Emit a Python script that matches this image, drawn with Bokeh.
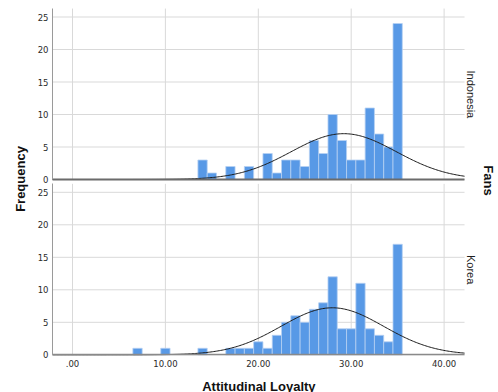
import numpy as np
from bokeh.plotting import figure
from bokeh.models import Range1d, FixedTicker, Label, LinearAxis
from bokeh.embed import file_html
from bokeh.resources import INLINE

# ---- data ----
indo_values = [14, 15, 17, 19, 21, 22, 23, 24, 25, 26, 27, 28, 29, 30, 31, 32, 33, 34, 35]
indo_counts = [3, 1, 2, 2, 4, 1, 3, 3, 2, 6, 4, 10, 6, 3, 3, 11, 7, 5, 24]
korea_values = [7, 10, 14, 17, 18, 19, 20, 21, 22, 23, 24, 25, 26, 27, 28, 29, 30, 31, 32, 33, 34, 35]
korea_counts = [1, 1, 1, 1, 1, 1, 2, 1, 3, 5, 6, 5, 7, 8, 12, 4, 4, 11, 4, 3, 2, 17]
x_ticks = [0, 10, 20, 30, 40]
x_tick_labels = [".00", "10.00", "20.00", "30.00", "40.00"]
y_ticks = [0, 5, 10, 15, 20, 25]
panel_names = ["Indonesia", "Korea"]
x_title = "Attitudinal Loyalty"
y_title = "Frequency"
facet_title = "Fans"
bin_width = 1.0

# ---- layout (pixels of the 498x392 canvas) ----
W, H = 498, 392
PX_X = 9.29          # pixels per unit on x
PX_Y = 6.5           # pixels per count
X0_PX = 72           # pixel of x = 0
TOP_ZERO_PX = 179    # pixel row of count 0, top panel
BOT_ZERO_PX = 354.3  # pixel row of count 0, bottom panel
PANEL_X = (-2.15, 42.2)
PANEL_Y = (0, 26.3)

BAR = "#5899e6"
BAR_LINE = "#b6d0f2"
GRID = "#d9d9d9"
TICK_FONT = "DejaVu Sans"
TITLE_FONT = "Liberation Sans"

x_range = Range1d(-X0_PX / PX_X, (W - X0_PX) / PX_X)
bot_range = Range1d(-(H - BOT_ZERO_PX) / PX_Y, BOT_ZERO_PX / PX_Y)
top_range = Range1d(-(H - TOP_ZERO_PX) / PX_Y, TOP_ZERO_PX / PX_Y)

p = figure(width=W, height=H, x_range=x_range, y_range=bot_range,
           output_backend="svg", toolbar_location=None,
           x_axis_location=None, y_axis_location=None, min_border=0)
p.extra_y_ranges = {"top": top_range}
p.grid.visible = False
p.outline_line_color = None
p.background_fill_color = "white"
p.border_fill_color = "white"


def normal_curve(values, counts):
    data = np.repeat(np.array(values, dtype=float), counts)
    mu, sd = data.mean(), data.std(ddof=1)
    xs = np.linspace(PANEL_X[0], PANEL_X[1], 300)
    ys = len(data) * bin_width * np.exp(-0.5 * ((xs - mu) / sd) ** 2) / (sd * np.sqrt(2 * np.pi))
    return xs, ys


def style_axis(ax, font_size="8.5px"):
    ax.major_tick_out = 0
    ax.major_tick_in = 0
    ax.minor_tick_out = 0
    ax.minor_tick_in = 0
    ax.major_tick_line_color = None
    ax.minor_tick_line_color = None
    ax.major_label_text_font = TICK_FONT
    ax.major_label_text_font_size = font_size
    ax.major_label_text_color = "#2a2a2a"


def draw_panel(values, counts, rname, name, bottom_panel):
    # grid lines, limited to the panel
    n_v = len(x_ticks)
    p.segment(x0=x_ticks, y0=[PANEL_Y[0]] * n_v, x1=x_ticks, y1=[PANEL_Y[1]] * n_v,
              line_color=GRID, line_width=1, y_range_name=rname)
    n_h = len(y_ticks)
    p.segment(x0=[PANEL_X[0]] * n_h, y0=y_ticks, x1=[PANEL_X[1]] * n_h, y1=y_ticks,
              line_color=GRID, line_width=1, y_range_name=rname)
    # histogram and normal curve
    p.vbar(x=values, top=counts, width=bin_width, bottom=0,
           fill_color=BAR, line_color=BAR_LINE, line_width=0.8, y_range_name=rname)
    xs, ys = normal_curve(values, counts)
    p.line(xs, ys, line_color="#1a1a1a", line_width=1, y_range_name=rname)

    # y axis of the panel
    yax = LinearAxis(y_range_name=rname, fixed_location=PANEL_X[0], bounds=PANEL_Y,
                     ticker=FixedTicker(ticks=y_ticks))
    style_axis(yax)
    yax.axis_line_color = "#9a9a9a"
    yax.axis_line_width = 1
    yax.major_label_standoff = 4
    p.add_layout(yax, "left")

    # x axis line of the panel (tick labels only under the bottom panel)
    xax = LinearAxis(y_range_name=rname, fixed_location=0, bounds=PANEL_X,
                     ticker=FixedTicker(ticks=x_ticks if bottom_panel else []))
    style_axis(xax)
    if bottom_panel:
        xax.major_label_overrides = {t: s for t, s in zip(x_ticks, x_tick_labels)}
        xax.major_label_standoff = 5
        xax.axis_line_color = "#8a8a8a"
        xax.axis_line_width = 1.3
    else:
        xax.axis_line_color = "#6b6b6b"
        xax.axis_line_width = 2.2
    p.add_layout(xax, "below")

    # panel label on the right
    p.add_layout(Label(x=(470 - X0_PX) / PX_X, y=13.1, text=name, angle=-np.pi / 2,
                       text_align="center", text_baseline="alphabetic",
                       text_font=TITLE_FONT, text_font_size="11px", text_color="#1e1e1e",
                       y_range_name=rname))


draw_panel(indo_values, indo_counts, "top", panel_names[0], False)
draw_panel(korea_values, korea_counts, "default", panel_names[1], True)

p.add_layout(Label(x=(258.4 - X0_PX) / PX_X, y=(BOT_ZERO_PX - 378) / PX_Y, text=x_title,
                   text_align="center", text_baseline="top", text_font=TITLE_FONT,
                   text_font_size="13px", text_font_style="bold", text_color="#111111"))
p.add_layout(Label(x=(20 - X0_PX) / PX_X, y=(BOT_ZERO_PX - 178.5) / PX_Y, text=y_title,
                   angle=np.pi / 2, text_align="center", text_baseline="middle",
                   text_font=TITLE_FONT, text_font_size="13px", text_font_style="bold",
                   text_color="#111111"))
p.add_layout(Label(x=(488 - X0_PX) / PX_X, y=(BOT_ZERO_PX - 180) / PX_Y, text=facet_title,
                   angle=-np.pi / 2, text_align="center", text_baseline="alphabetic",
                   text_font=TITLE_FONT, text_font_size="13px", text_font_style="bold",
                   text_color="#111111"))

open("out.html", "w").write(file_html(p, INLINE))
